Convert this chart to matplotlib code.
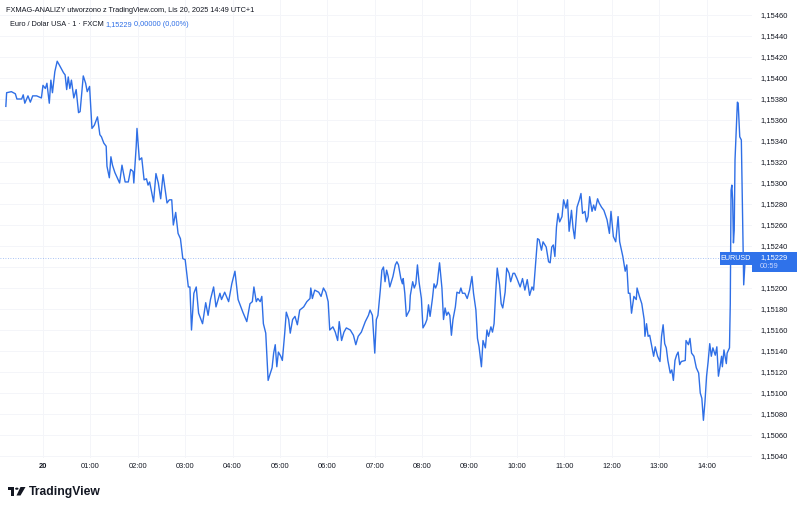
import matplotlib
matplotlib.use("Agg")
import matplotlib.pyplot as plt
from matplotlib.patches import Rectangle, Circle, Polygon
from matplotlib.ticker import FuncFormatter

# EUR/USD 1-minute, minutes from 00:00 on Lis 20 (negative = Nov 19)
minutes = [
    -47, -46, -40, -35, -33, -27, -25, -23, -19, -16, -13, -8, -5, -2, 0, 3, 5, 8, 10, 12,
    15, 18, 21, 26, 28, 30, 32, 34, 36, 39, 42, 45, 47, 51, 54, 56, 59, 62, 65, 69,
    72, 74, 77, 80, 81, 84, 86, 88, 91, 94, 97, 100, 104, 108, 111, 114, 115, 118, 119, 122,
    125, 128, 131, 133, 135, 140, 143, 146, 149, 152, 157, 160, 163, 165, 168, 171, 174, 177, 180, 184,
    186, 188, 191, 194, 197, 200, 202, 206, 209, 212, 216, 219, 224, 226, 230, 235, 239, 243, 247, 253,
    258, 262, 265, 267, 270, 272, 275, 277, 279, 282, 285, 287, 290, 292, 294, 296, 298, 301, 303, 306,
    308, 311, 313, 316, 319, 322, 325, 330, 334, 338, 339, 341, 344, 349, 352, 355, 358, 361, 363, 367,
    370, 373, 375, 378, 381, 384, 389, 393, 396, 399, 403, 408, 412, 414, 417, 420, 422, 424, 427, 429,
    431, 433, 435, 437, 439, 443, 446, 448, 450, 453, 455, 456, 458, 460, 464, 465, 468, 470, 472, 474,
    476, 479, 481, 484, 486, 488, 490, 493, 495, 497, 499, 502, 505, 507, 509, 511, 513, 515, 517, 519,
    522, 524, 527, 529, 531, 534, 537, 540, 543, 545, 548, 550, 552, 555, 557, 560, 562, 564, 567, 569,
    571, 573, 575, 578, 580, 582, 585, 587, 590, 592, 595, 597, 600, 604, 607, 610, 613, 616, 619, 621,
    624, 626, 628, 631, 633, 637, 640, 642, 644, 646, 648, 650, 652, 654, 657, 659, 662, 664, 666, 669,
    671, 673, 676, 679, 681, 683, 686, 688, 690, 692, 695, 697, 699, 702, 704, 707, 710, 714, 717, 719,
    722, 725, 728, 730, 734, 737, 739, 741, 743, 745, 748, 751, 752, 755, 758, 761, 762, 764, 766, 768,
    770, 773, 775, 778, 781, 783, 785, 787, 789, 791, 794, 796, 798, 800, 802, 804, 806, 808, 813, 814,
    817, 819, 821, 824, 827, 830, 832, 834, 836, 838, 840, 842, 844, 846, 848, 851, 853, 855, 857, 859,
    860, 862, 865, 866, 869, 870, 871, 872, 873, 874, 875, 876, 877, 879, 880, 882, 884, 886, 887, 889,
]
prices = [
    1.15373, 1.15386, 1.15387, 1.15385, 1.15380, 1.15380, 1.15384, 1.15376, 1.15383, 1.15377,
    1.15383, 1.15383, 1.15382, 1.15381, 1.15393, 1.15390, 1.15395, 1.15376, 1.15398, 1.15386,
    1.15406, 1.15416, 1.15412, 1.15405, 1.15403, 1.15389, 1.15401, 1.15390, 1.15398, 1.15381,
    1.15389, 1.15367, 1.15368, 1.15402, 1.15395, 1.15387, 1.15392, 1.15352, 1.15355, 1.15363,
    1.15346, 1.15344, 1.15338, 1.15335, 1.15316, 1.15305, 1.15325, 1.15317, 1.15310, 1.15305,
    1.15300, 1.15317, 1.15301, 1.15301, 1.15313, 1.15311, 1.15300, 1.15335, 1.15352, 1.15322,
    1.15324, 1.15303, 1.15304, 1.15298, 1.15301, 1.15282, 1.15309, 1.15300, 1.15285, 1.15308,
    1.15281, 1.15284, 1.15284, 1.15260, 1.15272, 1.15252, 1.15247, 1.15228, 1.15227, 1.15201,
    1.15201, 1.15160, 1.15195, 1.15201, 1.15176, 1.15170, 1.15166, 1.15186, 1.15174, 1.15189,
    1.15201, 1.15182, 1.15195, 1.15189, 1.15196, 1.15187, 1.15204, 1.15216, 1.15189, 1.15177,
    1.15168, 1.15185, 1.15187, 1.15201, 1.15187, 1.15190, 1.15187, 1.15192, 1.15166, 1.15157,
    1.15112, 1.15117, 1.15124, 1.15138, 1.15146, 1.15125, 1.15139, 1.15135, 1.15131, 1.15157,
    1.15177, 1.15170, 1.15157, 1.15170, 1.15173, 1.15165, 1.15179, 1.15182, 1.15187, 1.15190,
    1.15200, 1.15190, 1.15198, 1.15196, 1.15192, 1.15200, 1.15196, 1.15187, 1.15160, 1.15163,
    1.15158, 1.15150, 1.15168, 1.15150, 1.15158, 1.15162, 1.15160, 1.15155, 1.15146, 1.15154,
    1.15158, 1.15168, 1.15174, 1.15179, 1.15174, 1.15138, 1.15170, 1.15174, 1.15198, 1.15217,
    1.15220, 1.15206, 1.15217, 1.15211, 1.15201, 1.15211, 1.15222, 1.15225, 1.15222, 1.15209,
    1.15204, 1.15209, 1.15195, 1.15173, 1.15179, 1.15193, 1.15206, 1.15200, 1.15204, 1.15222,
    1.15206, 1.15190, 1.15162, 1.15166, 1.15170, 1.15184, 1.15173, 1.15190, 1.15204, 1.15200,
    1.15204, 1.15224, 1.15200, 1.15170, 1.15181, 1.15174, 1.15177, 1.15174, 1.15155, 1.15170,
    1.15182, 1.15196, 1.15195, 1.15200, 1.15195, 1.15195, 1.15190, 1.15198, 1.15211, 1.15195,
    1.15179, 1.15152, 1.15144, 1.15125, 1.15150, 1.15143, 1.15160, 1.15154, 1.15163, 1.15158,
    1.15166, 1.15195, 1.15219, 1.15203, 1.15185, 1.15181, 1.15196, 1.15219, 1.15214, 1.15206,
    1.15214, 1.15214, 1.15209, 1.15201, 1.15209, 1.15198, 1.15208, 1.15193, 1.15201, 1.15198,
    1.15228, 1.15247, 1.15246, 1.15236, 1.15244, 1.15239, 1.15225, 1.15224, 1.15239, 1.15241,
    1.15230, 1.15258, 1.15271, 1.15263, 1.15268, 1.15284, 1.15276, 1.15284, 1.15254, 1.15274,
    1.15257, 1.15247, 1.15277, 1.15284, 1.15290, 1.15271, 1.15273, 1.15263, 1.15268, 1.15287,
    1.15273, 1.15279, 1.15274, 1.15285, 1.15281, 1.15277, 1.15274, 1.15265, 1.15252, 1.15273,
    1.15249, 1.15244, 1.15268, 1.15244, 1.15230, 1.15216, 1.15222, 1.15195, 1.15195, 1.15176,
    1.15192, 1.15189, 1.15200, 1.15192, 1.15185, 1.15170, 1.15154, 1.15166, 1.15154, 1.15155,
    1.15147, 1.15135, 1.15144, 1.15135, 1.15130, 1.15154, 1.15165, 1.15147, 1.15143, 1.15131,
    1.15119, 1.15122, 1.15112, 1.15131, 1.15136, 1.15139, 1.15127, 1.15130, 1.15131, 1.15150,
    1.15146, 1.15152, 1.15138, 1.15135, 1.15124, 1.15119, 1.15100, 1.15095, 1.15074, 1.15092,
    1.15116, 1.15130, 1.15147, 1.15135, 1.15143, 1.15136, 1.15144, 1.15116, 1.15125, 1.15135,
    1.15125, 1.15141, 1.15128, 1.15138, 1.15143, 1.15185, 1.15293, 1.15298, 1.15284, 1.15243,
    1.15255, 1.15322, 1.15341, 1.15377, 1.15376, 1.15344, 1.15341, 1.15246, 1.15203, 1.15229,
]

last_price = 1.15229
hour_ticks = [0, 60, 120, 180, 240, 300, 360, 420, 480, 540, 600, 660, 720, 780, 840]
hour_labels = ["20", "01:00", "02:00", "03:00", "04:00", "05:00", "06:00", "07:00",
               "08:00", "09:00", "10:00", "11:00", "12:00", "13:00", "14:00"]
price_ticks = [1.15040, 1.15060, 1.15080, 1.15100, 1.15120, 1.15140, 1.15160, 1.15180,
               1.15200, 1.15240, 1.15260, 1.15280, 1.15300, 1.15320, 1.15340, 1.15360,
               1.15380, 1.15400, 1.15420, 1.15440, 1.15460]
grid_prices = [1.15040 + 0.0002 * i for i in range(22)]

blue = "#2f6fe6"
box_blue = "#2f72ea"
text_col = "#131722"
grid_col = "#f4f5f9"
FONT = "Liberation Sans"

W, H = 800, 509
fig = plt.figure(figsize=(W / 100, H / 100), dpi=100)
fig.patch.set_facecolor("white")
ax = fig.add_axes([0, 1 - 458 / H, 752 / W, 458 / H])

for gp in grid_prices:
    ax.axhline(gp, color=grid_col, lw=0.7, zorder=0)
for ht in hour_ticks:
    ax.axvline(ht, color=grid_col, lw=0.7, zorder=0)

ax.plot(minutes, prices, color=blue, lw=1.0, solid_joinstyle="round", zorder=3)
ax.axhline(last_price, color=blue, lw=0.6, ls=(0, (1, 2)), alpha=0.55, zorder=2)

ax.set_xlim(-54.4, 897.5)
ax.set_ylim(1.150381, 1.154743)

for s in ax.spines.values():
    s.set_visible(False)

ax.set_xticks(hour_ticks)
ax.set_xticklabels(hour_labels)
ax.tick_params(axis="x", length=0, pad=3.5, labelsize=5.4, labelcolor=text_col)
for lab in ax.get_xticklabels():
    lab.set_fontfamily(FONT)
ax.get_xticklabels()[0].set_fontweight("bold")

ax.yaxis.tick_right()
ax.set_yticks(price_ticks)
ax.yaxis.set_major_formatter(FuncFormatter(lambda v, p: f"{v:.5f}".replace(".", ",")))
ax.tick_params(axis="y", length=0, pad=6.3, labelsize=5.4, labelcolor=text_col)
for lab in ax.get_yticklabels():
    lab.set_fontfamily(FONT)

# header texts
fig.text(6 / W, 1 - 10 / H, "FXMAG-ANALIZY utworzono z TradingView.com, Lis 20, 2025 14:49 UTC+1",
         fontsize=5.3, color=text_col, family=FONT, va="center")
fig.text(10 / W, 1 - 25 / H, "Euro / Dolar USA · 1 · FXCM", fontsize=5.3,
         color=text_col, family=FONT, va="center")
fig.text(105 / W, 1 - 25 / H, "1,15229", fontsize=5.3, color=blue, family=FONT, va="center")
fig.text(134 / W, 1 - 25 / H, "0,00000 (0,00%)", fontsize=5.3, color=blue, family=FONT, va="center")

# last price labels
fig.patches.append(Rectangle((720 / W, 1 - 265 / H), 32 / W, 13 / H, transform=fig.transFigure,
                             facecolor=box_blue, edgecolor="none"))
fig.text(736 / W, 1 - 258.5 / H, "EURUSD", fontsize=5.2, color="white", family=FONT,
         ha="center", va="center")
fig.patches.append(Rectangle((752 / W, 1 - 272 / H), 45 / W, 20 / H, transform=fig.transFigure,
                             facecolor=box_blue, edgecolor="none"))
fig.text(760 / W, 1 - 257.5 / H, "1,15229", fontsize=5.4, color="white", family=FONT, va="center")
fig.text(760 / W, 1 - 266.5 / H, "00:59", fontsize=5.4, color="#c9d6ff", family=FONT, va="center")

# TradingView logo
fig.patches.append(Polygon([(7.5 / W, 1 - 487 / H), (14.5 / W, 1 - 487 / H), (14.5 / W, 1 - 495.5 / H),
                            (11.2 / W, 1 - 495.5 / H), (11.2 / W, 1 - 490.2 / H), (7.5 / W, 1 - 490.2 / H)],
                           closed=True, transform=fig.transFigure, facecolor=text_col, edgecolor="none"))
fig.patches.append(Circle((16.8 / W, 1 - 488.7 / H), 1.7 / W, transform=fig.transFigure,
                          facecolor=text_col, edgecolor="none"))
fig.patches.append(Polygon([(20.5 / W, 1 - 487 / H), (25.5 / W, 1 - 487 / H), (20.5 / W, 1 - 495.5 / H),
                            (16.5 / W, 1 - 495.5 / H)],
                           closed=True, transform=fig.transFigure, facecolor=text_col, edgecolor="none"))
fig.text(29 / W, 1 - 491.5 / H, "TradingView", fontsize=8.7, fontweight="bold", color=text_col,
         family=FONT, va="center")

fig.savefig("out.png", dpi=100, facecolor="white")
